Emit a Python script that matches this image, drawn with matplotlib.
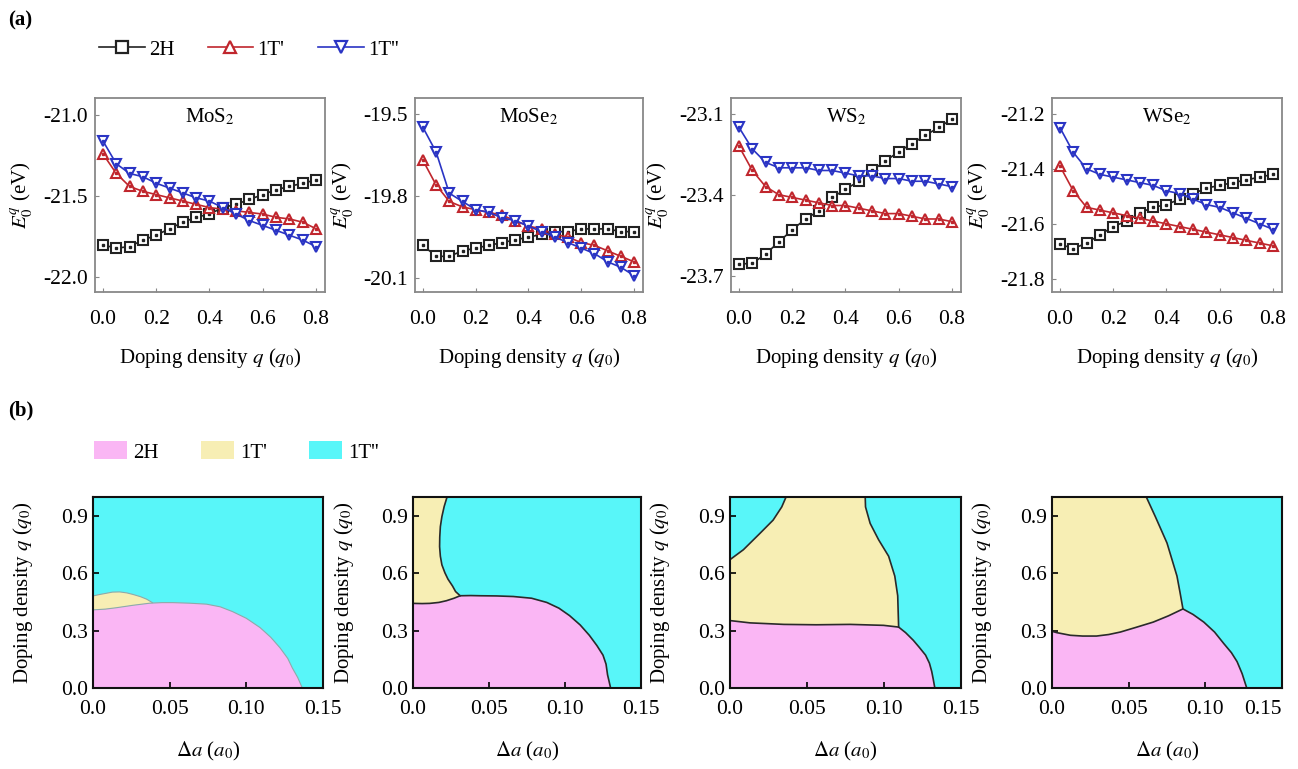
import matplotlib
matplotlib.use("Agg")
import matplotlib.pyplot as plt
from matplotlib.lines import Line2D
from matplotlib.patches import Patch
import numpy as np

plt.rcParams['font.family'] = ['Liberation Serif', 'DejaVu Serif']
plt.rcParams['mathtext.fontset'] = 'stix'

# ---------------- data: panel (a) ----------------
q = [0.0, 0.05, 0.10, 0.15, 0.20, 0.25, 0.30, 0.35, 0.40, 0.45, 0.50, 0.55, 0.60, 0.65, 0.70, 0.75, 0.80]
materials = ['MoS$_2$', 'MoSe$_2$', 'WS$_2$', 'WSe$_2$']

mos2_2H  = [-21.80, -21.82, -21.81, -21.77, -21.74, -21.70, -21.66, -21.63, -21.61, -21.57, -21.55, -21.52, -21.49, -21.46, -21.44, -21.42, -21.40]
mos2_1T1 = [-21.24, -21.36, -21.44, -21.47, -21.49, -21.51, -21.53, -21.55, -21.57, -21.58, -21.59, -21.60, -21.61, -21.63, -21.64, -21.66, -21.70]
mos2_1T2 = [-21.16, -21.30, -21.36, -21.38, -21.42, -21.45, -21.48, -21.51, -21.53, -21.57, -21.61, -21.65, -21.68, -21.71, -21.74, -21.77, -21.81]

mose2_2H  = [-19.98, -20.02, -20.02, -20.00, -19.99, -19.98, -19.97, -19.96, -19.95, -19.94, -19.93, -19.93, -19.92, -19.92, -19.92, -19.93, -19.93]
mose2_1T1 = [-19.67, -19.76, -19.82, -19.84, -19.85, -19.86, -19.87, -19.89, -19.91, -19.92, -19.94, -19.95, -19.97, -19.98, -20.00, -20.02, -20.04]
mose2_1T2 = [-19.55, -19.64, -19.79, -19.82, -19.85, -19.86, -19.88, -19.89, -19.91, -19.93, -19.95, -19.97, -19.99, -20.01, -20.04, -20.06, -20.09]

ws2_2H  = [-23.657, -23.655, -23.62, -23.575, -23.53, -23.49, -23.46, -23.41, -23.38, -23.35, -23.31, -23.275, -23.24, -23.21, -23.18, -23.15, -23.12]
ws2_1T1 = [-23.22, -23.31, -23.37, -23.40, -23.41, -23.42, -23.43, -23.44, -23.44, -23.45, -23.46, -23.47, -23.47, -23.48, -23.49, -23.49, -23.50]
ws2_1T2 = [-23.15, -23.23, -23.28, -23.30, -23.30, -23.30, -23.31, -23.31, -23.32, -23.33, -23.33, -23.34, -23.34, -23.35, -23.35, -23.36, -23.37]

wse2_2H  = [-21.674, -21.69, -21.67, -21.64, -21.61, -21.59, -21.56, -21.54, -21.53, -21.51, -21.49, -21.47, -21.46, -21.45, -21.44, -21.43, -21.42]
wse2_1T1 = [-21.39, -21.48, -21.54, -21.55, -21.56, -21.57, -21.58, -21.59, -21.60, -21.61, -21.62, -21.63, -21.64, -21.65, -21.66, -21.67, -21.68]
wse2_1T2 = [-21.25, -21.34, -21.40, -21.42, -21.43, -21.44, -21.45, -21.46, -21.48, -21.49, -21.51, -21.53, -21.54, -21.56, -21.58, -21.60, -21.62]

energies = [
    (mos2_2H, mos2_1T1, mos2_1T2),
    (mose2_2H, mose2_1T1, mose2_1T2),
    (ws2_2H, ws2_1T1, ws2_1T2),
    (wse2_2H, wse2_1T1, wse2_1T2),
]
ylims = [(-22.09, -20.895), (-20.15, -19.443), (-23.761, -23.041), (-21.848, -21.142)]
yticks = [[-21.0, -21.5, -22.0], [-19.5, -19.8, -20.1], [-23.1, -23.4, -23.7], [-21.2, -21.4, -21.6, -21.8]]
xticks_a = [0.0, 0.2, 0.4, 0.6, 0.8]

# ---------------- data: panel (b) phase boundaries ----------------
# 2H upper boundary (x = Δa, y = q), ending on the q = 0 axis
b_2H_x = [
    [0.0, 0.008, 0.015, 0.026, 0.037, 0.045, 0.052, 0.063, 0.074, 0.083, 0.091, 0.100, 0.109, 0.116, 0.122, 0.127, 0.130, 0.1335, 0.1365],
    [0.0, 0.006, 0.011, 0.017, 0.022, 0.027, 0.031, 0.038, 0.044, 0.055, 0.066, 0.078, 0.088, 0.096, 0.103, 0.110, 0.116, 0.121, 0.125, 0.127, 0.128, 0.129, 0.130],
    [0.0, 0.013, 0.035, 0.056, 0.078, 0.0997, 0.1095, 0.114, 0.119, 0.123, 0.127, 0.1295, 0.131, 0.132, 0.133],
    [0.0, 0.003, 0.012, 0.020, 0.029, 0.037, 0.0446, 0.055, 0.066, 0.076, 0.0854, 0.092, 0.099, 0.106, 0.112, 0.117, 0.1207, 0.124, 0.127],
]
b_2H_y = [
    [0.409, 0.413, 0.42, 0.433, 0.444, 0.447, 0.447, 0.444, 0.439, 0.425, 0.40, 0.365, 0.316, 0.265, 0.21, 0.155, 0.105, 0.055, 0.0],
    [0.443, 0.442, 0.443, 0.448, 0.457, 0.470, 0.483, 0.484, 0.483, 0.482, 0.479, 0.470, 0.448, 0.418, 0.379, 0.330, 0.276, 0.222, 0.172, 0.125, 0.069, 0.035, 0.0],
    [0.353, 0.341, 0.333, 0.331, 0.333, 0.328, 0.319, 0.290, 0.25, 0.212, 0.172, 0.130, 0.086, 0.045, 0.0],
    [0.297, 0.29, 0.276, 0.272, 0.272, 0.280, 0.293, 0.318, 0.345, 0.378, 0.414, 0.385, 0.345, 0.293, 0.233, 0.185, 0.138, 0.075, 0.0],
]
# 1T' region polygons
r_1T1_x = [
    [0.0, 0.008, 0.015, 0.026, 0.037, 0.0387, 0.035, 0.031, 0.026, 0.022, 0.0174, 0.0127, 0.0087, 0.004, 0.0],
    [0.0, 0.006, 0.011, 0.017, 0.022, 0.027, 0.031, 0.028, 0.026, 0.023, 0.021, 0.019, 0.018, 0.0175, 0.0176, 0.018, 0.019, 0.0205, 0.0224, 0.0],
    [0.0, 0.013, 0.035, 0.056, 0.078, 0.0997, 0.1095, 0.1092, 0.1089, 0.107, 0.103, 0.0965, 0.091, 0.088, 0.0878,
     0.0364, 0.0336, 0.028, 0.0195, 0.0087, 0.0],
    [0.0, 0.003, 0.012, 0.020, 0.029, 0.037, 0.0446, 0.055, 0.066, 0.076, 0.0854, 0.0835, 0.0815, 0.075, 0.0674, 0.0615, 0.0],
]
r_1T1_y = [
    [0.409, 0.413, 0.42, 0.433, 0.444, 0.447, 0.465, 0.478, 0.49, 0.498, 0.503, 0.502, 0.496, 0.489, 0.482],
    [0.443, 0.442, 0.443, 0.448, 0.457, 0.470, 0.483, 0.505, 0.534, 0.570, 0.603, 0.645, 0.69, 0.74, 0.79, 0.845, 0.897, 0.95, 1.0, 1.0],
    [0.353, 0.341, 0.333, 0.331, 0.333, 0.328, 0.319, 0.40, 0.483, 0.586, 0.69, 0.776, 0.862, 0.948, 1.0,
     1.0, 0.948, 0.879, 0.81, 0.724, 0.672],
    [0.297, 0.29, 0.276, 0.272, 0.272, 0.280, 0.293, 0.318, 0.345, 0.378, 0.414, 0.500, 0.586, 0.759, 0.897, 1.0, 1.0],
]
# 1T'/1T'' boundaries (list of polylines per panel)
l_1T_x = [
    [[0.0387, 0.035, 0.031, 0.026, 0.022, 0.0174, 0.0127, 0.0087, 0.004, 0.0]],
    [[0.031, 0.028, 0.026, 0.023, 0.021, 0.019, 0.018, 0.0175, 0.0176, 0.018, 0.019, 0.0205, 0.0224]],
    [[0.1095, 0.1092, 0.1089, 0.107, 0.103, 0.0965, 0.091, 0.088, 0.0878], [0.0, 0.0087, 0.0195, 0.028, 0.0336, 0.0364]],
    [[0.0854, 0.0835, 0.0815, 0.075, 0.0674, 0.0615]],
]
l_1T_y = [
    [[0.447, 0.465, 0.478, 0.49, 0.498, 0.503, 0.502, 0.496, 0.489, 0.482]],
    [[0.483, 0.505, 0.534, 0.570, 0.603, 0.645, 0.69, 0.74, 0.79, 0.845, 0.897, 0.95, 1.0]],
    [[0.319, 0.40, 0.483, 0.586, 0.69, 0.776, 0.862, 0.948, 1.0], [0.672, 0.724, 0.81, 0.879, 0.948, 1.0]],
    [[0.414, 0.500, 0.586, 0.759, 0.897, 1.0]],
]
xticks_b = [0.0, 0.05, 0.10, 0.15]
xticklabels_b = ['0.0', '0.05', '0.10', '0.15']
yticks_b = [0.0, 0.3, 0.6, 0.9]
phases = ['2H', "1T'", "1T''"]

# ---------------- styles ----------------
line_colors = ['#222222', '#c0262d', '#2a34c4']
markers = ['s', '^', 'v']
c_2H, c_1T1, c_1T2 = '#fab6f4', '#f7eeb4', '#58f6f9'

W, H = 1298, 769
fig = plt.figure(figsize=(W / 100, H / 100), dpi=100)

def px_axes(x0, x1, y0, y1):
    return fig.add_axes([x0 / W, 1 - y1 / H, (x1 - x0) / W, (y1 - y0) / H])

top_x = [(95, 325), (415, 643), (731, 961), (1052, 1282)]
bot_x = [(93, 323), (413, 641), (730, 961), (1052, 1282)]

TICK_FS = 15.5
LAB_FS = 15

for i in range(4):
    ax = px_axes(top_x[i][0], top_x[i][1], 98, 292)
    for j in range(3):
        ax.plot(q, energies[i][j], color=line_colors[j], marker=markers[j], ms=7.8,
                mfc='white', mec=line_colors[j], mew=1.5, lw=1.2)
        ax.plot(q, energies[i][j], ls='none', marker='s', ms=1.5, color=line_colors[j])
    ax.set_xlim(-0.03, 0.834)
    ax.set_ylim(*ylims[i])
    ax.set_xticks(xticks_a)
    ax.set_xticklabels(['%.1f' % v for v in xticks_a])
    ax.set_yticks(yticks[i])
    ax.set_yticklabels(['%.1f' % v for v in yticks[i]])
    ax.tick_params(direction='in', length=3, labelsize=TICK_FS, color='#888888')
    ax.tick_params(axis='x', pad=13)
    ax.tick_params(axis='y', pad=5)
    for s in ax.spines.values():
        s.set_color('#888888')
        s.set_linewidth(1.3)
    ax.text(0.5, 0.9, materials[i], transform=ax.transAxes, ha='center', va='center', fontsize=LAB_FS)
    ax.set_ylabel('$E_0^q$ (eV)', fontsize=LAB_FS)
    ax.yaxis.set_label_coords(-60 / 230, 0.5)
    ax.set_xlabel('Doping density $q$ ($q_0$)', fontsize=LAB_FS)
    ax.xaxis.set_label_coords(0.5, -54 / 194)

for i in range(4):
    ax = px_axes(bot_x[i][0], bot_x[i][1], 497, 688)
    ax.set_facecolor(c_1T2)
    x2 = list(b_2H_x[i]) + [0.0]
    y2 = list(b_2H_y[i]) + [0.0]
    ax.fill(x2, y2, color=c_2H, lw=0)
    ax.fill(r_1T1_x[i], r_1T1_y[i], color=c_1T1, lw=0)
    if i == 0:
        lc, lw = '#8fa9a9', 0.8
    else:
        lc, lw = '#2a2a2a', 1.2
    ax.plot(b_2H_x[i], b_2H_y[i], color=lc, lw=lw)
    for xs, ys in zip(l_1T_x[i], l_1T_y[i]):
        ax.plot(xs, ys, color=lc, lw=lw)
    ax.set_xlim(0, 0.15)
    ax.set_ylim(0, 1.0)
    ax.set_xticks(xticks_b)
    ax.set_xticklabels(xticklabels_b)
    ax.set_yticks(yticks_b)
    ax.set_yticklabels(['%.1f' % v for v in yticks_b])
    ax.tick_params(direction='in', length=4, labelsize=TICK_FS, width=1.2)
    ax.tick_params(axis='x', pad=9)
    if i == 3:
        ax.get_xticklabels()[-1].set_horizontalalignment('right')
    for s in ax.spines.values():
        s.set_color('#111111')
        s.set_linewidth(1.5)
    ax.set_ylabel('Doping density $q$ ($q_0$)', fontsize=LAB_FS)
    ax.yaxis.set_label_coords(-58 / 230, 0.5)
    ax.set_xlabel(r'$\Delta a$ ($a_0$)', fontsize=LAB_FS)
    ax.xaxis.set_label_coords(0.5, -52 / 191)

fig.text(8 / W, 1 - 20 / H, '(a)', fontsize=15, fontweight='bold', va='center')
fig.text(8 / W, 1 - 410 / H, '(b)', fontsize=15, fontweight='bold', va='center')

h_a = [Line2D([0], [0], color=line_colors[j], marker=markers[j], ms=8.5, mfc='white',
              mec=line_colors[j], mew=1.6, lw=1.2) for j in range(3)]
fig.legend(h_a, phases, loc='center left', bbox_to_anchor=(80 / W, 1 - 50 / H), ncol=3,
           frameon=False, fontsize=LAB_FS, handlelength=2.2, handletextpad=0.2, columnspacing=1.6)

h_b = [Patch(facecolor=c, edgecolor='none') for c in (c_2H, c_1T1, c_1T2)]
fig.legend(h_b, phases, loc='center left', bbox_to_anchor=(75 / W, 1 - 452 / H), ncol=3,
           frameon=False, fontsize=LAB_FS, handlelength=1.6, handleheight=0.95,
           handletextpad=0.3, columnspacing=2.0)

fig.savefig('out.png', dpi=100)
